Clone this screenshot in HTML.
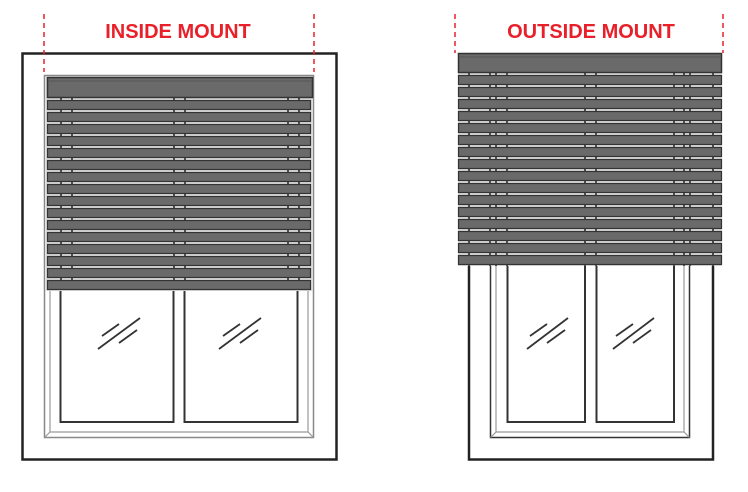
<!DOCTYPE html>
<html><head><meta charset="utf-8"><style>
html,body{margin:0;padding:0;background:#fff;}
svg{display:block}
text{font-family:"Liberation Sans",sans-serif;font-weight:bold;fill:#e8202a;font-size:20px;}
</style></head><body>
<svg width="748" height="492" viewBox="0 0 748 492" xmlns="http://www.w3.org/2000/svg">
<!-- LEFT WINDOW -->
<rect x="22.5" y="53.5" width="314" height="406" fill="none" stroke="#222" stroke-width="2.5"/>
<rect x="44.5" y="75.5" width="269" height="362" fill="none" stroke="#888" stroke-width="1.5"/>
<path d="M50 80 V432 H308 V80 M44.5 437.5 L50 432 M313.5 437.5 L308 432" fill="none" stroke="#999" stroke-width="1.2"/>
<rect x="60.5" y="90" width="113" height="332" fill="none" stroke="#333" stroke-width="2"/>
<rect x="184.5" y="90" width="113" height="332" fill="none" stroke="#333" stroke-width="2"/>
<g stroke="#333" stroke-width="1.8">
<line x1="98" y1="349" x2="140" y2="318"/><line x1="102" y1="336" x2="119" y2="324"/><line x1="119" y1="343" x2="137" y2="330"/>
<line x1="219" y1="349" x2="261" y2="318"/><line x1="223" y1="336" x2="240" y2="324"/><line x1="240" y1="343" x2="258" y2="330"/>
</g>
<!-- left blinds -->
<rect x="46" y="76" width="267" height="215" fill="#ddd"/>
<g stroke="#222" stroke-width="1.5">
<line x1="61" y1="98" x2="61" y2="290"/><line x1="72" y1="98" x2="72" y2="290"/>
<line x1="174" y1="98" x2="174" y2="290"/><line x1="185" y1="98" x2="185" y2="290"/>
<line x1="288" y1="98" x2="288" y2="290"/><line x1="299" y1="98" x2="299" y2="290"/>
</g>
<rect x="47.5" y="77.5" width="265" height="20" fill="#6a6a6a" stroke="#333" stroke-width="1.5"/>
<line x1="48" y1="81" x2="312" y2="81" stroke="#555"/>
<g fill="#6a6a6a" stroke="#333" stroke-width="1.2">
<rect x="47.5" y="100.5" width="263" height="9"/><rect x="47.5" y="112.5" width="263" height="9"/>
<rect x="47.5" y="124.5" width="263" height="9"/><rect x="47.5" y="136.5" width="263" height="9"/>
<rect x="47.5" y="148.5" width="263" height="9"/><rect x="47.5" y="160.5" width="263" height="9"/>
<rect x="47.5" y="172.5" width="263" height="9"/><rect x="47.5" y="184.5" width="263" height="9"/>
<rect x="47.5" y="196.5" width="263" height="9"/><rect x="47.5" y="208.5" width="263" height="9"/>
<rect x="47.5" y="220.5" width="263" height="9"/><rect x="47.5" y="232.5" width="263" height="9"/>
<rect x="47.5" y="244.5" width="263" height="9"/><rect x="47.5" y="256.5" width="263" height="9"/>
<rect x="47.5" y="268.5" width="263" height="9"/><rect x="47.5" y="280.5" width="263" height="9"/>
</g>
<g stroke="#e8202a" stroke-width="1.5" stroke-dasharray="5,4">
<line x1="44" y1="14" x2="44" y2="72"/><line x1="314" y1="14" x2="314" y2="72"/>
<line x1="455" y1="14" x2="455" y2="53"/><line x1="723" y1="14" x2="723" y2="53"/>
</g>
<text x="178" y="38" text-anchor="middle">INSIDE MOUNT</text>
<text x="591" y="38" text-anchor="middle">OUTSIDE MOUNT</text>
<!-- RIGHT WINDOW -->
<path d="M469 70 V459.5 H713 V70" fill="none" stroke="#222" stroke-width="2.5"/>
<path d="M490.5 70 V437.5 H689.5 V70" fill="none" stroke="#333" stroke-width="1.5"/>
<path d="M496 70 V432 H684 V70 M490.5 437.5 L496 432 M689.5 437.5 L684 432" fill="none" stroke="#999" stroke-width="1.2"/>
<path d="M507.5 70 V422 H585 V70 M596.5 70 V422 H674 V70" fill="none" stroke="#333" stroke-width="2"/>
<g stroke="#333" stroke-width="1.8">
<line x1="527" y1="349" x2="568" y2="318"/><line x1="530" y1="336" x2="547" y2="324"/><line x1="547" y1="343" x2="565" y2="330"/>
<line x1="613" y1="349" x2="654" y2="318"/><line x1="616" y1="336" x2="633" y2="324"/><line x1="633" y1="343" x2="651" y2="330"/>
</g>
<rect x="458" y="72" width="264" height="194" fill="#ddd"/>
<g stroke="#222" stroke-width="1.5">
<line x1="469" y1="73" x2="469" y2="266"/><line x1="490" y1="73" x2="490" y2="266"/><line x1="496" y1="73" x2="496" y2="266"/>
<line x1="507" y1="73" x2="507" y2="266"/><line x1="585" y1="73" x2="585" y2="266"/><line x1="596" y1="73" x2="596" y2="266"/>
<line x1="674" y1="73" x2="674" y2="266"/><line x1="684" y1="73" x2="684" y2="266"/><line x1="690" y1="73" x2="690" y2="266"/><line x1="713" y1="73" x2="713" y2="266"/>
</g>
<rect x="458.5" y="53.5" width="263" height="19" fill="#6a6a6a" stroke="#333" stroke-width="1.5"/>
<line x1="459" y1="57" x2="721" y2="57" stroke="#555"/>
<g fill="#6a6a6a" stroke="#333" stroke-width="1.2">
<rect x="458.5" y="75.5" width="263" height="9"/><rect x="458.5" y="87.5" width="263" height="9"/>
<rect x="458.5" y="99.5" width="263" height="9"/><rect x="458.5" y="111.5" width="263" height="9"/>
<rect x="458.5" y="123.5" width="263" height="9"/><rect x="458.5" y="135.5" width="263" height="9"/>
<rect x="458.5" y="147.5" width="263" height="9"/><rect x="458.5" y="159.5" width="263" height="9"/>
<rect x="458.5" y="171.5" width="263" height="9"/><rect x="458.5" y="183.5" width="263" height="9"/>
<rect x="458.5" y="195.5" width="263" height="9"/><rect x="458.5" y="207.5" width="263" height="9"/>
<rect x="458.5" y="219.5" width="263" height="9"/><rect x="458.5" y="231.5" width="263" height="9"/>
<rect x="458.5" y="243.5" width="263" height="9"/><rect x="458.5" y="255.5" width="263" height="9"/>
</g>
</svg>
</body></html>
